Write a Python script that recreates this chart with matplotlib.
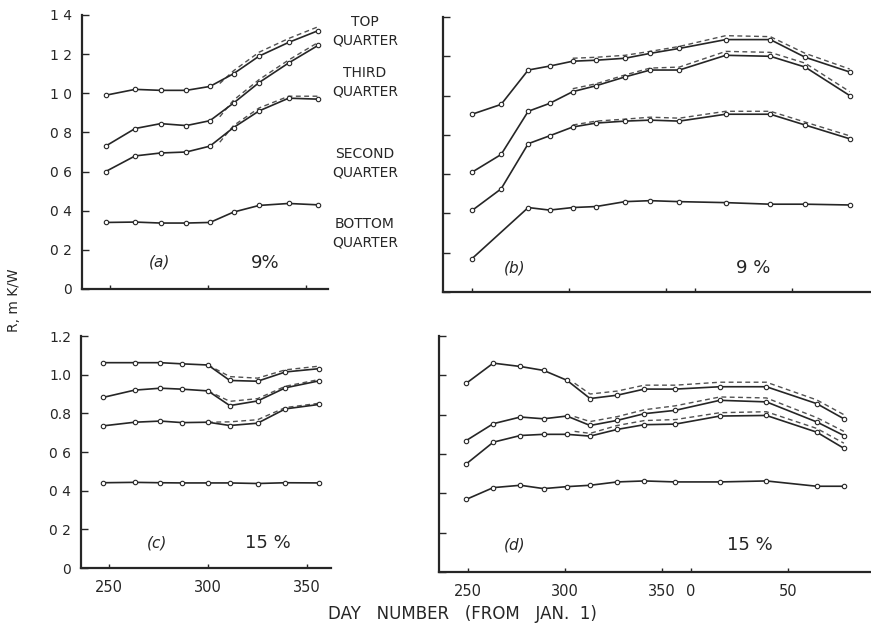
import matplotlib
matplotlib.use("Agg")
import matplotlib.pyplot as plt

plt.rcParams["font.family"] = ["DejaVu Sans"]

INK = "#262626"

# ---- panel (a): 9 %, autumn only ----
A_DAYS = [248, 263, 276, 289, 301, 313, 326, 341, 356]
A_TOP = [0.99, 1.02, 1.015, 1.015, 1.035, 1.10, 1.19, 1.26, 1.32]
A_THIRD = [0.73, 0.82, 0.845, 0.835, 0.86, 0.95, 1.055, 1.155, 1.245]
A_SECOND = [0.60, 0.68, 0.695, 0.70, 0.73, 0.825, 0.91, 0.975, 0.97]
A_BOTTOM = [0.34, 0.342, 0.337, 0.337, 0.34, 0.393, 0.427, 0.437, 0.43]
A_DASH_DAYS = [306, 313, 326, 341, 356]
A_TOP_DASH = [1.05, 1.115, 1.21, 1.28, 1.34]
A_THIRD_DASH = [0.88, 0.965, 1.07, 1.17, 1.26]
A_SECOND_DASH = [0.75, 0.835, 0.925, 0.985, 0.985]

# ---- panel (b): 9 %, autumn to spring ----
B_DAYS = [250, 265, 279, 290, 302, 314, 329, 342, 357, 381, 404, 422, 445]
B_TOP = [0.905, 0.955, 1.13, 1.15, 1.175, 1.18, 1.19, 1.215, 1.24, 1.285, 1.285, 1.195, 1.12]
B_THIRD = [0.61, 0.70, 0.92, 0.96, 1.02, 1.05, 1.095, 1.13, 1.13, 1.205, 1.20, 1.145, 1.0]
B_SECOND = [0.415, 0.525, 0.755, 0.795, 0.84, 0.86, 0.87, 0.875, 0.87, 0.905, 0.905, 0.85, 0.78]
B_BOTTOM_DAYS = [250, 279, 290, 302, 314, 329, 342, 357, 381, 404, 422, 445]
B_BOTTOM = [0.17, 0.43, 0.417, 0.43, 0.435, 0.46, 0.465, 0.46, 0.455, 0.447, 0.447, 0.443]
B_DASH_DAYS = [302, 314, 329, 342, 357, 381, 404, 422, 445]
B_TOP_DASH = [1.19, 1.195, 1.205, 1.225, 1.25, 1.305, 1.30, 1.215, 1.135]
B_THIRD_DASH = [1.035, 1.06, 1.105, 1.14, 1.145, 1.225, 1.22, 1.165, 1.02]
B_SECOND_DASH = [0.85, 0.87, 0.88, 0.89, 0.885, 0.92, 0.92, 0.865, 0.795]

# ---- panel (c): 15 %, autumn only ----
C_DAYS = [247, 263, 276, 287, 300, 311, 325, 339, 356]
C_TOP = [1.062, 1.062, 1.062, 1.056, 1.05, 0.97, 0.966, 1.014, 1.031]
C_THIRD = [0.882, 0.92, 0.93, 0.925, 0.916, 0.84, 0.864, 0.932, 0.968]
C_SECOND = [0.735, 0.754, 0.76, 0.752, 0.754, 0.737, 0.749, 0.823, 0.846]
C_BOTTOM = [0.441, 0.443, 0.441, 0.44, 0.44, 0.44, 0.437, 0.441, 0.44]
C_DASH_DAYS = [300, 311, 325, 339, 356]
C_TOP_DASH = [1.05, 0.99, 0.982, 1.025, 1.044]
C_THIRD_DASH = [0.916, 0.862, 0.876, 0.94, 0.975]
C_SECOND_DASH = [0.754, 0.756, 0.767, 0.83, 0.852]

# ---- panel (d): 15 %, autumn to spring ----
D_DAYS = [249, 263, 277, 289, 301, 313, 327, 341, 357, 380, 404, 430, 444]
D_TOP = [0.959, 1.062, 1.045, 1.025, 0.975, 0.882, 0.899, 0.93, 0.93, 0.942, 0.942, 0.856, 0.779]
D_THIRD = [0.668, 0.754, 0.788, 0.779, 0.793, 0.745, 0.771, 0.805, 0.822, 0.873, 0.865, 0.763, 0.694]
D_SECOND = [0.549, 0.66, 0.694, 0.70, 0.70, 0.691, 0.725, 0.749, 0.752, 0.793, 0.796, 0.711, 0.629]
D_BOTTOM = [0.369, 0.429, 0.441, 0.424, 0.434, 0.441, 0.458, 0.463, 0.458, 0.458, 0.463, 0.436, 0.436]
D_DASH_DAYS = [305, 313, 327, 341, 357, 380, 404, 430, 444]
D_TOP_DASH = [0.96, 0.905, 0.92, 0.95, 0.95, 0.965, 0.965, 0.875, 0.80]
D_THIRD_DASH = [0.79, 0.765, 0.79, 0.825, 0.845, 0.89, 0.885, 0.785, 0.715]
D_SECOND_DASH = [0.715, 0.705, 0.745, 0.77, 0.775, 0.81, 0.815, 0.73, 0.655]

# day ticks; 365 is shown as "0" (new year)
SHORT_TICKS = [250, 300, 350]
SHORT_LABELS = ["250", "300", "350"]
LONG_TICKS = [250, 300, 350, 365, 415]
LONG_LABELS = ["250", "300", "350", "0", "50"]
Y14_TICKS = [0, 0.2, 0.4, 0.6, 0.8, 1.0, 1.2, 1.4]
Y14_LABELS = ["0", "0 2", "0 4", "0 6", "0 8", "1 0", "1 2", "1 4"]
Y12_TICKS = [0, 0.2, 0.4, 0.6, 0.8, 1.0, 1.2]
Y12_LABELS = ["0", "0 2", "0 4", "0 6", "0.8", "1.0", "1.2"]

W, H = 871, 638
fig = plt.figure(figsize=(W / 100, H / 100), dpi=100)
fig.patch.set_facecolor("white")


def px_axes(left, top, right, bottom):
    return fig.add_axes([left / W, 1 - bottom / H, (right - left) / W, (bottom - top) / H])


def style(ax, xlim, ylim, xticks, xlabels, yticks, ylabels):
    ax.set_xlim(*xlim)
    ax.set_ylim(*ylim)
    for s in ("top", "right"):
        ax.spines[s].set_visible(False)
    for s in ("left", "bottom"):
        ax.spines[s].set_color(INK)
        ax.spines[s].set_linewidth(1.6)
    ax.set_xticks(xticks)
    ax.set_xticklabels(xlabels if xlabels else [])
    ax.set_yticks(yticks)
    ax.set_yticklabels(ylabels if ylabels else [])
    ax.tick_params(direction="in", length=5, width=1.0, color=INK,
                   labelsize=10, labelcolor=INK, pad=7)
    ax.tick_params(axis="x", length=3, pad=9, labelsize=10.5)


def curve(ax, days, vals):
    ax.plot(days, vals, "-", color=INK, lw=1.2, solid_joinstyle="round",
            marker="o", ms=3.2, mfc="white", mec=INK, mew=0.8, zorder=3)


def dashed(ax, days, vals):
    ax.plot(days, vals, color=INK, lw=1.0, linestyle=(0, (3.5, 2.5)), alpha=0.8, zorder=2)


ax_a = px_axes(82, 15, 328, 289)
ax_b = px_axes(443, 17, 871, 292)
ax_c = px_axes(81, 336, 331, 568)
ax_d = px_axes(439, 336, 871, 572)

style(ax_a, (236, 361), (0, 1.4), SHORT_TICKS, None, Y14_TICKS, Y14_LABELS)
style(ax_b, (235, 456), (0, 1.4), LONG_TICKS, None, Y14_TICKS, None)
style(ax_c, (236, 362), (0, 1.2), SHORT_TICKS, SHORT_LABELS, Y12_TICKS, Y12_LABELS)
style(ax_d, (235, 458), (0, 1.2), LONG_TICKS, LONG_LABELS, Y12_TICKS, None)

for vals in (A_TOP, A_THIRD, A_SECOND, A_BOTTOM):
    curve(ax_a, A_DAYS, vals)
for vals in (A_TOP_DASH, A_THIRD_DASH, A_SECOND_DASH):
    dashed(ax_a, A_DASH_DAYS, vals)

for vals in (B_TOP, B_THIRD, B_SECOND):
    curve(ax_b, B_DAYS, vals)
curve(ax_b, B_BOTTOM_DAYS, B_BOTTOM)
for vals in (B_TOP_DASH, B_THIRD_DASH, B_SECOND_DASH):
    dashed(ax_b, B_DASH_DAYS, vals)

for vals in (C_TOP, C_THIRD, C_SECOND, C_BOTTOM):
    curve(ax_c, C_DAYS, vals)
for vals in (C_TOP_DASH, C_THIRD_DASH, C_SECOND_DASH):
    dashed(ax_c, C_DASH_DAYS, vals)

for vals in (D_TOP, D_THIRD, D_SECOND, D_BOTTOM):
    curve(ax_d, D_DAYS, vals)
for vals in (D_TOP_DASH, D_THIRD_DASH, D_SECOND_DASH):
    dashed(ax_d, D_DASH_DAYS, vals)

# panel tags and moisture contents
tag_kw = dict(fontsize=11, style="italic", color=INK, ha="center", va="center")
pct_kw = dict(fontsize=13, color=INK, ha="center", va="center")
fig.text(160 / W, 1 - 262 / H, "(a)", **tag_kw)
fig.text(265 / W, 1 - 263 / H, "9%", **pct_kw)
fig.text(515 / W, 1 - 268 / H, "(b)", **tag_kw)
fig.text(753 / W, 1 - 268 / H, "9 %", **pct_kw)
fig.text(157 / W, 1 - 543 / H, "(c)", **tag_kw)
fig.text(268 / W, 1 - 543 / H, "15 %", **pct_kw)
fig.text(515 / W, 1 - 545 / H, "(d)", **tag_kw)
fig.text(750 / W, 1 - 545 / H, "15 %", **pct_kw)

# quarter names
for text, yc in (("TOP\nQUARTER", 31), ("THIRD\nQUARTER", 82),
                 ("SECOND\nQUARTER", 163), ("BOTTOM\nQUARTER", 233)):
    fig.text(365 / W, 1 - yc / H, text, fontsize=10, color=INK,
             ha="center", va="center", linespacing=1.45)

fig.text(14 / W, 1 - 300 / H, "R, m K/W", rotation=90, fontsize=10,
         color=INK, ha="center", va="center")
fig.text(462 / W, 1 - 614 / H, "DAY   NUMBER   (FROM   JAN.  1)", fontsize=12,
         color=INK, ha="center", va="center")

fig.savefig("out.png", dpi=100, facecolor="white")
